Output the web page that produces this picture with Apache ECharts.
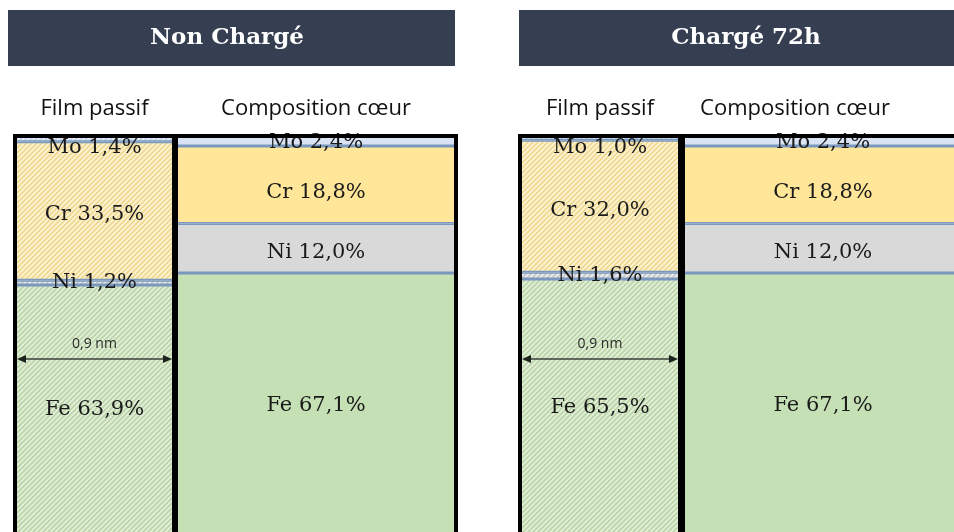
<!DOCTYPE html>
<html>
<head>
<meta charset="utf-8">
<script src="https://cdn.jsdelivr.net/npm/echarts@6/dist/echarts.min.js"></script>
<style>
  html, body { margin: 0; padding: 0; background: #ffffff; }
  #chart { width: 954px; height: 532px; }
</style>
</head>
<body>
<div id="chart"></div>
<script>
// Panel titles and column labels
const panelTitles = ['Non Chargé', 'Chargé 72h'];
const columnLabels = ['Film passif', 'Composition cœur'];
const elements = ['Mo', 'Cr', 'Ni', 'Fe'];

// Composition (%), top to bottom: Mo, Cr, Ni, Fe
const filmNonCharge = [1.4, 33.5, 1.2, 63.9];
const coreNonCharge = [2.4, 18.8, 12.0, 67.1];
const filmCharge72 = [1.0, 32.0, 1.6, 65.5];
const coreCharge72 = [2.4, 18.8, 12.0, 67.1];

const filmThickness = '0,9 nm';

// ---- styling ----
const solidColors = { Mo: '#dae3f3', Cr: '#ffe699', Ni: '#d9d9d9', Fe: '#c5e0b4' };
const hatchColors = {
  Mo: ['#eaf0f8', '#c4d3ea'],
  Cr: ['#fdf3d3', '#efd78f'],
  Ni: ['#eeeeee', '#c6c6c6'],
  Fe: ['#e3efda', '#b9d4a7']
};
const separatorColor = '#7a98bd';
const serif = '"DejaVu Serif", "Liberation Serif", serif';
const sans = '"Open Sans", "Noto Sans", sans-serif';

// vertical nudges for the segment labels (px)
const labelShift = {
  film: { Mo: 9, Cr: 4, Ni: 0, Fe: -7 },
  core: { Mo: 2, Cr: 8, Ni: 4, Fe: -6 }
};

function hatch(bg, fg) {
  const s = 5;
  const c = document.createElement('canvas');
  c.width = s; c.height = s;
  const g = c.getContext('2d');
  g.fillStyle = bg;
  g.fillRect(0, 0, s, s);
  g.strokeStyle = fg;
  g.lineWidth = 1.6;
  g.beginPath();
  g.moveTo(-1, s + 1); g.lineTo(s + 1, -1);
  g.moveTo(-1, 1); g.lineTo(1, -1);
  g.moveTo(s - 1, s + 1); g.lineTo(s + 1, s - 1);
  g.stroke();
  return c;
}

// layout of the four columns
const gridTop = 136;
const gridHeight = 413;
const columnsLayout = [
  { left: 15, width: 159, kind: 'film', values: filmNonCharge },
  { left: 176, width: 280, kind: 'core', values: coreNonCharge },
  { left: 520, width: 160, kind: 'film', values: filmCharge72 },
  { left: 683, width: 280, kind: 'core', values: coreCharge72, labelPad: [0, 56, 0, 0] }
];

const fmt = v => v.toFixed(1).replace('.', ',') + '%';

const grids = [], xAxes = [], yAxes = [], series = [];
columnsLayout.forEach((col, i) => {
  grids.push({
    left: col.left, top: gridTop, width: col.width, height: gridHeight,
    outerBoundsMode: 'none', containLabel: false,
    show: true, borderColor: '#000000', borderWidth: 4,
    backgroundColor: 'transparent', z: 10
  });
  xAxes.push({
    type: 'category', gridIndex: i, position: 'top',
    data: [columnLabels[col.kind === 'film' ? 0 : 1]],
    axisLine: { show: false }, axisTick: { show: false }, splitLine: { show: false },
    axisLabel: {
      margin: 16, fontFamily: sans, fontSize: 22, color: '#111111',
      padding: col.labelPad || 0
    }
  });
  yAxes.push({
    type: 'value', gridIndex: i, inverse: true, min: 0, max: 100, show: false
  });
  elements.forEach((el, k) => {
    const fill = col.kind === 'film'
      ? { image: hatch(hatchColors[el][0], hatchColors[el][1]), repeat: 'repeat' }
      : solidColors[el];
    series.push({
      type: 'bar', name: el, stack: 'col' + i,
      xAxisIndex: i, yAxisIndex: i,
      barWidth: '100%', barCategoryGap: 0,
      data: [col.values[k]],
      itemStyle: { color: fill, borderColor: separatorColor, borderWidth: 1.5 },
      emphasis: { disabled: true },
      label: {
        show: true, position: 'inside',
        offset: [0, labelShift[col.kind][el]],
        formatter: p => el + ' ' + fmt(p.value),
        fontFamily: serif, fontSize: 21, color: '#1a1a1a'
      },
      z: 2
    });
  });
});

// title bars
const graphics = [];
const titleBars = [
  { x: 8, w: 447, cx: 227 },
  { x: 519, w: 440, cx: 746 }
];
titleBars.forEach((b, i) => {
  graphics.push({
    type: 'rect', left: b.x, top: 10, shape: { width: b.w, height: 56 },
    style: { fill: '#353f51' }, z: 1
  });
  graphics.push({
    type: 'text', x: b.cx, y: 38, z: 2,
    style: {
      text: panelTitles[i], fill: '#ffffff', font: 'bold 23px ' + serif,
      textAlign: 'center', textVerticalAlign: 'middle'
    }
  });
});

// thickness annotation across each passive-film column
[columnsLayout[0], columnsLayout[2]].forEach(col => {
  const x1 = col.left + 2, x2 = col.left + col.width - 2, y = 359;
  const ah = 9, aw = 4;
  graphics.push({
    type: 'line', z: 50,
    shape: { x1: x1 + ah - 1, y1: y, x2: x2 - ah + 1, y2: y },
    style: { stroke: '#3b4038', lineWidth: 1.4 }
  });
  graphics.push({
    type: 'polygon', z: 50,
    shape: { points: [[x1, y], [x1 + ah, y - aw], [x1 + ah, y + aw]] },
    style: { fill: '#1e221d' }
  });
  graphics.push({
    type: 'polygon', z: 50,
    shape: { points: [[x2, y], [x2 - ah, y - aw], [x2 - ah, y + aw]] },
    style: { fill: '#1e221d' }
  });
  graphics.push({
    type: 'text', z: 50, x: (x1 + x2) / 2, y: 344,
    style: {
      text: filmThickness, fill: '#2a2a2a', font: '14px ' + sans,
      textAlign: 'center', textVerticalAlign: 'middle'
    }
  });
});

const chart = echarts.init(document.getElementById('chart'), null, { renderer: 'canvas' });
chart.setOption({
  animation: false,
  backgroundColor: '#ffffff',
  grid: grids,
  xAxis: xAxes,
  yAxis: yAxes,
  series: series,
  graphic: graphics
});
</script>
</body>
</html>
